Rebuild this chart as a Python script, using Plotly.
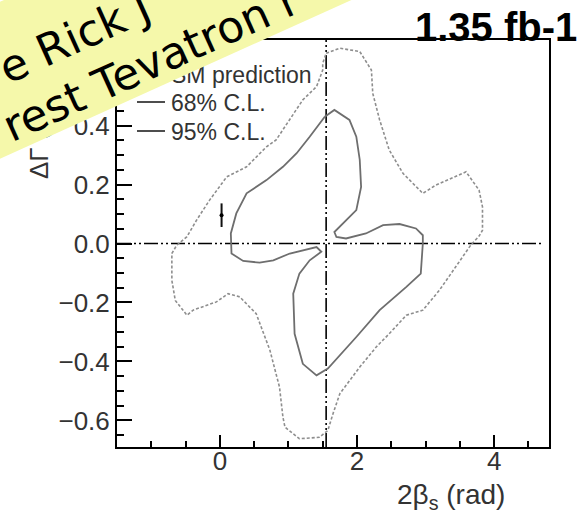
import plotly.graph_objects as go

# ---- data -----------------------------------------------------------------
# 68% C.L. contour in the (2beta_s, DeltaGamma) plane
cl68_x = [1.53, 1.67, 1.89, 1.99, 2.04, 2.06, 1.99, 1.79, 1.67, 1.70, 1.84, 2.13,
          2.38, 2.62, 2.86, 2.96, 2.96, 2.93, 2.72, 2.33, 1.99, 1.575, 1.41, 1.21,
          1.09, 1.07, 1.16, 1.31, 1.48, 1.41, 1.31, 1.02, 0.78, 0.58, 0.34, 0.17,
          0.16, 0.24, 0.39, 0.68, 0.92, 1.12, 1.31, 1.53]
cl68_y = [0.430, 0.453, 0.419, 0.362, 0.284, 0.192, 0.113, 0.068, 0.039, 0.022, 0.017, 0.034,
          0.062, 0.066, 0.051, 0.028, 0.000, -0.102, -0.147, -0.226, -0.317, -0.424, -0.447, -0.408,
          -0.306, -0.170, -0.102, -0.057, -0.028, -0.012, -0.017, -0.034, -0.057, -0.065, -0.059, -0.034,
          0.034, 0.102, 0.170, 0.215, 0.260, 0.306, 0.362, 0.430]

# 95% C.L. contour
cl95_x = [1.55, 1.75, 2.04, 2.21, 2.23, 2.33, 2.47, 2.67, 2.96, 3.15, 3.59, 3.78,
          3.83, 3.83, 3.78, 3.66, 3.44, 3.20, 2.96, 2.72, 2.47, 2.28, 2.04, 1.75,
          1.65, 1.575, 1.45, 1.16, 0.95, 0.92, 0.87, 0.73, 0.53, 0.29, 0.12, -0.05,
          -0.39, -0.48, -0.65, -0.70, -0.70, -0.63, -0.48, -0.34, -0.15, 0.10, 0.39, 0.68,
          0.82, 1.02, 1.21, 1.41, 1.50, 1.50, 1.55]
cl95_y = [0.645, 0.662, 0.651, 0.588, 0.509, 0.419, 0.317, 0.238, 0.170, 0.198, 0.243, 0.181,
          0.124, 0.045, 0.025, -0.005, -0.079, -0.159, -0.226, -0.243, -0.306, -0.351, -0.419, -0.509,
          -0.577, -0.634, -0.657, -0.662, -0.623, -0.589, -0.487, -0.362, -0.238, -0.181, -0.170, -0.198,
          -0.226, -0.243, -0.193, -0.125, -0.034, -0.006, 0.023, 0.079, 0.147, 0.226, 0.260, 0.328,
          0.351, 0.419, 0.487, 0.532, 0.588, 0.611, 0.645]

# Standard Model prediction
sm_x = [0.025]
sm_y = [0.096]
sm_err = [0.04]

# reference lines
hline_x = [-1.5, 4.72]
hline_y = [0.0, 0.0]
vline_x = [1.55, 1.55]
vline_y = [-0.69, 0.69]

x_range = [-1.5, 4.8]
y_range = [-0.69, 0.69]

legend_labels = ["SM prediction", "68% C.L.", "95% C.L."]

# ---- geometry helpers (pixel -> paper) -------------------------------------
W, H = 583, 514
M = dict(l=117, r=34, t=40, b=67)
PW = W - M["l"] - M["r"]
PH = H - M["t"] - M["b"]


def px(x):
    return (x - M["l"]) / PW


def py(y):
    return (H - M["b"] - y) / PH


TXT = "#333333"
FONT = "Liberation Sans, Arial, Helvetica, sans-serif"
HAND = "DejaVu Sans"
refdash = "14px,3px,2px,3px,2px,3px"
BANNER_ANGLE = -24.3

fig = go.Figure()

fig.add_trace(go.Scatter(x=hline_x, y=hline_y, mode="lines", showlegend=False,
                         line=dict(color="black", width=1.6, dash=refdash), hoverinfo="skip"))
fig.add_trace(go.Scatter(x=vline_x, y=vline_y, mode="lines", showlegend=False,
                         line=dict(color="black", width=1.6, dash=refdash), hoverinfo="skip"))

fig.add_trace(go.Scatter(x=cl95_x, y=cl95_y, mode="lines", name="95% C.L.", showlegend=False,
                         line=dict(color="#8e8e8e", width=1.6, dash="3px,2px")))
fig.add_trace(go.Scatter(x=cl68_x, y=cl68_y, mode="lines", name="68% C.L.", showlegend=False,
                         line=dict(color="#6e6e6e", width=1.8)))

fig.add_trace(go.Scatter(x=sm_x, y=sm_y, mode="markers", name="SM prediction", showlegend=False,
                         marker=dict(color="black", size=4),
                         error_y=dict(type="data", array=sm_err, thickness=2, width=0, color="#111")))

axis_common = dict(showline=True, linecolor="black", linewidth=2, mirror=True,
                   showgrid=False, zeroline=False, ticks="inside", tickcolor="black",
                   tickwidth=2, tickfont=dict(family=FONT, size=26, color=TXT))

fig.update_xaxes(range=x_range, tick0=0, dtick=2, ticklen=12, ticklabelstandoff=-10,
                 minor=dict(dtick=0.5, tick0=0, ticks="inside", ticklen=6,
                            tickwidth=1.5, tickcolor="black", showgrid=False),
                 **axis_common)
fig.update_yaxes(range=y_range, tick0=0, dtick=0.2, tickformat=".1f", ticklen=15,
                 minor=dict(dtick=0.05, tick0=0, ticks="inside", ticklen=7,
                            tickwidth=1.5, tickcolor="black", showgrid=False),
                 **axis_common)

# legend box (text rows + line keys)
legend_rows_y = [75, 103, 132]
annotations = []
for lab, ry in zip(legend_labels, legend_rows_y):
    annotations.append(dict(text=lab, x=px(169), y=py(ry), xanchor="left", yanchor="middle",
                            font=dict(family=FONT, size=23, color=TXT)))
shapes = []
for ry in legend_rows_y[1:]:
    shapes.append(dict(type="line", xref="paper", yref="paper", layer="above",
                       x0=px(137), x1=px(165), y0=py(ry - 1), y1=py(ry - 1),
                       line=dict(color="#222", width=1.6)))

annotations += [
    dict(text="2β<sub>s</sub> (rad)", x=px(451), y=py(496), xanchor="center", yanchor="middle",
         font=dict(family=FONT, size=28, color=TXT)),
    dict(text="ΔΓ (ps<sup>-1</sup>)", x=px(37), y=py(181), xanchor="center", yanchor="bottom",
         textangle=-90, font=dict(family=FONT, size=26, color=TXT)),
    dict(text="<b>1.35 fb-1</b>", x=px(579), y=py(27), xanchor="right", yanchor="middle",
         font=dict(family=FONT, size=40, color="black")),
    # yellow sticky banner across the top-left corner
    dict(text=" ", x=px(98), y=py(36), xanchor="center", yanchor="middle",
         width=600, height=142, bgcolor="#f5f8aa", borderpad=0, textangle=BANNER_ANGLE,
         font=dict(size=10)),
    dict(text="e Rick J", x=px(74), y=py(37), xanchor="center", yanchor="middle",
         textangle=BANNER_ANGLE, font=dict(family=HAND, size=44, color="black")),
    dict(text="rest Tevatron r", x=px(151), y=py(62), xanchor="center", yanchor="middle",
         textangle=BANNER_ANGLE, font=dict(family=HAND, size=44, color="black")),
]
for a in annotations:
    a.update(xref="paper", yref="paper", showarrow=False)

fig.update_layout(
    width=W, height=H, margin=M,
    paper_bgcolor="white", plot_bgcolor="white",
    annotations=annotations, shapes=shapes,
    showlegend=False,
)

fig.write_html("out.html")
